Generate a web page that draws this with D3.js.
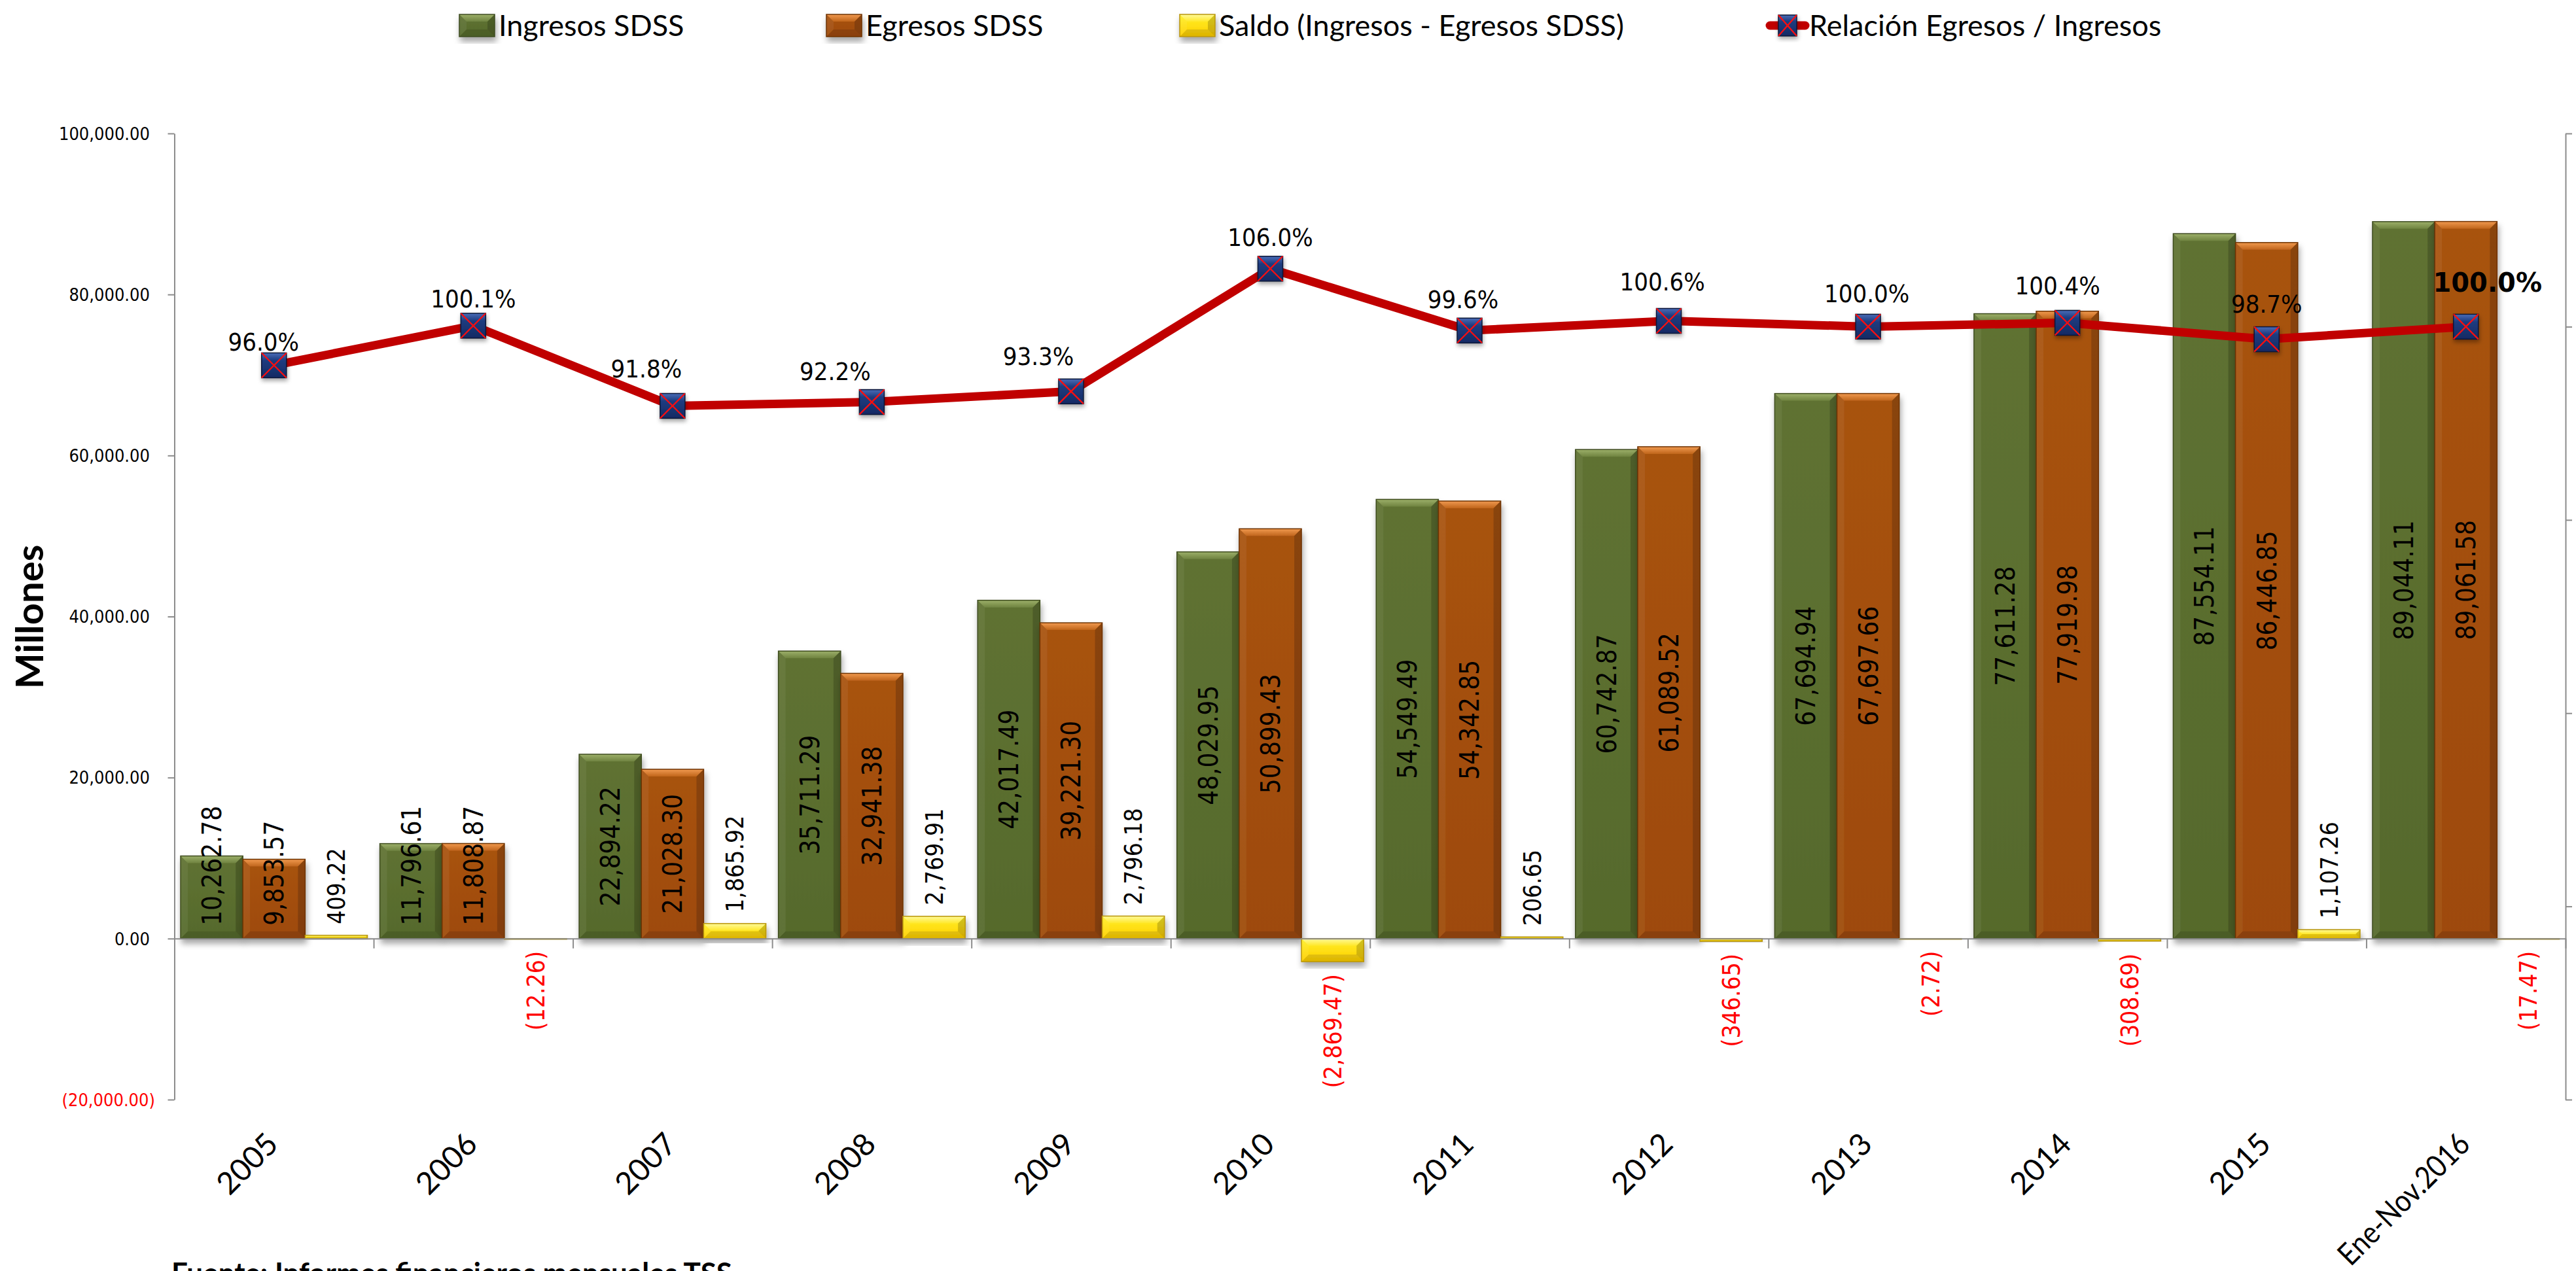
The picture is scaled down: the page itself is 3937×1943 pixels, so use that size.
<!DOCTYPE html>
<html>
<head>
<meta charset="utf-8">
<script src="https://cdn.jsdelivr.net/npm/d3@7"></script>
<style>
html,body{margin:0;padding:0;background:#fff;overflow:hidden}
svg{display:block}
</style>
</head>
<body>
<svg id="chart" width="3937" height="1943"></svg>
<script>
// ---------------- DATA ----------------
const categories = ["2005","2006","2007","2008","2009","2010","2011","2012","2013","2014","2015","Ene-Nov.2016"];
const ingresos = [10262.78,11796.61,22894.22,35711.29,42017.49,48029.95,54549.49,60742.87,67694.94,77611.28,87554.11,89044.11];
const egresos  = [9853.57,11808.87,21028.30,32941.38,39221.30,50899.43,54342.85,61089.52,67697.66,77919.98,86446.85,89061.58];
const saldo    = [409.22,-12.26,1865.92,2769.91,2796.18,-2869.47,206.65,-346.65,-2.72,-308.69,1107.26,-17.47];
const relacion = [0.960,1.001,0.918,0.922,0.933,1.060,0.996,1.006,1.000,1.004,0.987,1.000];
const seriesNames = ["Ingresos SDSS","Egresos SDSS","Saldo (Ingresos - Egresos SDSS)","Relación Egresos / Ingresos"];
const yTicks  = [-20000,0,20000,40000,60000,80000,100000];
const y2Ticks = [0.2,0.4,0.6,0.8,1.0,1.2];
const yTitle = "Millones";
const footer = "Fuente: Informes financieros mensuales TSS";

// ---------------- LAYOUT ----------------
const L = 266.5, R = 3921, T = 204, B = 1681;
const CAL = "Lato, Carlito, Calibri, 'Open Sans', sans-serif";
const VER = "'DejaVu Sans Condensed', 'DejaVu Sans', sans-serif";
// manual nudges of the ratio labels (dx, baseline height above marker)
const pctNudge = [[-16,22],[0,28],[-40,44],[-56,34],[-50,40],[0,35],[-10,34],[-10,47],[-2,37],[-15,43],[0,41],[33,53]];

const svg = d3.select("#chart");
const defs = svg.append("defs");

const palettes = {
  g: {face0:"#5f7232", face1:"#566a2c", edge:"#3e4c1f", top0:"#9db06a", top1:"#6f8340"},
  o: {face0:"#a8530f", face1:"#9e4a0a", edge:"#6e3306", top0:"#f19a4f", top1:"#c0651c"},
  y: {face0:"#fff02a", face1:"#ffcf00", edge:"#b8950a", top0:"#fffa9a", top1:"#ffe82a"}
};
Object.entries(palettes).forEach(([k,p])=>{
  const f = defs.append("linearGradient").attr("id","face_"+k).attr("x1",0).attr("x2",0).attr("y1",0).attr("y2",1);
  f.append("stop").attr("offset","0%").attr("stop-color",p.face0);
  f.append("stop").attr("offset","100%").attr("stop-color",p.face1);
  const t = defs.append("linearGradient").attr("id","top_"+k).attr("x1",0).attr("x2",0).attr("y1",0).attr("y2",1);
  t.append("stop").attr("offset","0%").attr("stop-color",p.top0);
  t.append("stop").attr("offset","100%").attr("stop-color",p.top1);
});
const mk = defs.append("linearGradient").attr("id","mk").attr("x1",0).attr("x2",0).attr("y1",0).attr("y2",1);
mk.append("stop").attr("offset","0%").attr("stop-color","#4a6db8");
mk.append("stop").attr("offset","30%").attr("stop-color","#1f3c80");
mk.append("stop").attr("offset","100%").attr("stop-color","#142a63");
const sh = defs.append("filter").attr("id","sh").attr("x","-30%").attr("y","-30%").attr("width","160%").attr("height","160%");
sh.append("feDropShadow").attr("dx",2).attr("dy",7).attr("stdDeviation",5).attr("flood-color","#000").attr("flood-opacity",0.35);
const sh2 = defs.append("filter").attr("id","sh2").attr("x","-30%").attr("y","-30%").attr("width","160%").attr("height","160%");
sh2.append("feDropShadow").attr("dx",1).attr("dy",4).attr("stdDeviation",3).attr("flood-color","#000").attr("flood-opacity",0.35);

// ---------------- SCALES ----------------
const x0 = d3.scaleBand().domain(categories).range([L,R]).paddingInner(0.0625).paddingOuter(0.03125);
const keys = ["g","o","y"];
const x1 = d3.scaleBand().domain(keys).range([0,x0.bandwidth()]);
const y  = d3.scaleLinear().domain([-20000,100000]).range([B,T]);
const y2 = d3.scaleLinear().domain([0.2,1.2]).range([B,T]);
const xb = d3.scaleLinear().domain([0,categories.length]).range([L,R]);
const cx = c => x0(c) + x0.bandwidth()/2;

function bevelBar(g, x, yy, w, h, k){
  const p = palettes[k];
  const b = Math.min(11, h/2, w/2);
  const grp = g.append("g").attr("filter","url(#sh)");
  grp.append("rect").attr("x",x).attr("y",yy).attr("width",w).attr("height",h)
     .attr("fill","url(#face_"+k+")");
  grp.append("polygon").attr("points",[[x,yy],[x+w,yy],[x+w-b,yy+b],[x+b,yy+b]].join(" "))
     .attr("fill","url(#top_"+k+")");
  grp.append("polygon").attr("points",[[x,yy],[x+b,yy+b],[x+b,yy+h-b],[x,yy+h]].join(" "))
     .attr("fill","#fff").attr("opacity",0.06);
  grp.append("polygon").attr("points",[[x+w,yy],[x+w,yy+h],[x+w-b,yy+h-b],[x+w-b,yy+b]].join(" "))
     .attr("fill","#000").attr("opacity",0.18);
  grp.append("polygon").attr("points",[[x,yy+h],[x+b,yy+h-b],[x+w-b,yy+h-b],[x+w,yy+h]].join(" "))
     .attr("fill","#000").attr("opacity",0.12);
  grp.append("rect").attr("x",x).attr("y",yy).attr("width",w).attr("height",h)
     .attr("fill","none").attr("stroke",p.edge).attr("stroke-width",1.5);
  return grp;
}
function marker(g, x, yy, w, h){
  const m = g.append("g").attr("filter","url(#sh2)").attr("transform",`translate(${x},${yy})`);
  m.append("rect").attr("x",-w/2).attr("y",-h/2).attr("width",w).attr("height",h).attr("fill","url(#mk)")
   .attr("stroke","#0b1838").attr("stroke-width",1.5);
  m.append("line").attr("x1",-w/2).attr("y1",-h/2).attr("x2",w/2).attr("y2",h/2).attr("stroke","#ff1010").attr("stroke-width",2.2);
  m.append("line").attr("x1",w/2).attr("y1",-h/2).attr("x2",-w/2).attr("y2",h/2).attr("stroke","#ff1010").attr("stroke-width",2.2);
}

// ---------------- AXES ----------------
const yAxis = svg.append("g").attr("transform",`translate(${L},0)`)
  .call(d3.axisLeft(y).tickValues(yTicks).tickSize(10).tickSizeOuter(0).tickFormat(()=>""));
const y2Axis = svg.append("g").attr("transform",`translate(${R},0)`)
  .call(d3.axisRight(y2).tickValues(y2Ticks).tickSize(10).tickSizeOuter(0).tickFormat(()=>""));
[yAxis,y2Axis].forEach(a=>{a.selectAll("path,line").attr("stroke","#8c8c8c").attr("stroke-width",2);});

const fmt = d3.format(",.2f");
const fmtNeg = v => v < 0 ? "(" + fmt(-v) + ")" : fmt(v);
svg.append("g").selectAll("text").data(yTicks).join("text")
  .attr("x", d => d < 0 ? 237 : 229).attr("y", d => y(d)).attr("dy","0.36em")
  .attr("text-anchor","end").attr("font-family",VER).attr("font-size",27)
  .attr("fill", d => d < 0 ? "#ff0000" : "#000").text(fmtNeg);

// ---------------- BARS ----------------
const barsG = svg.append("g");
const series = {g: ingresos, o: egresos, y: saldo};
categories.forEach((c,i)=>{
  keys.forEach(k=>{
    const v = series[k][i];
    const yt = y(Math.max(0,v)), yb = y(Math.min(0,v));
    bevelBar(barsG, x0(c)+x1(k), yt, x1.bandwidth(), Math.max(1, yb-yt), k);
  });
});

// x axis (at zero)
const xAxis = svg.append("g").attr("transform",`translate(0,${y(0)})`)
  .call(d3.axisBottom(xb).tickValues(d3.range(0,categories.length+1)).tickSize(15).tickSizeOuter(0).tickFormat(()=>""));
xAxis.selectAll("path,line").attr("stroke","#8c8c8c").attr("stroke-width",2);

// ---------------- BAR LABELS ----------------
const labG = svg.append("g");
const base = y(0);
categories.forEach((c,i)=>{
  keys.forEach(k=>{
    const v = series[k][i];
    const bx = x0(c)+x1(k)+x1.bandwidth()/2;
    const yt = y(Math.max(0,v)), yb = y(Math.min(0,v));
    const t = labG.append("text").attr("font-family",VER).attr("font-size", k==="y" ? 37 : 40)
      .attr("fill", v < 0 ? "#ff0000" : "#000").attr("dy","0.36em").text(fmtNeg(v));
    const len = t.node().getComputedTextLength();
    let anchorY, anchor;
    if (k === "y") {
      if (v >= 0) { anchorY = yt - 17; anchor = "start"; }
      else { anchorY = yb + 19; anchor = "end"; }
    } else {
      const mid = (yt+yb)/2;
      anchorY = Math.min(mid + len/2, base - 20); anchor = "start";
    }
    t.attr("text-anchor",anchor).attr("transform",`translate(${bx},${anchorY}) rotate(-90)`);
  });
});

// ---------------- LINE ----------------
const line = d3.line().x((d,i)=>cx(categories[i])).y(d=>y2(d));
svg.append("path").datum(relacion).attr("d",line).attr("fill","none")
  .attr("stroke","#c00000").attr("stroke-width",13).attr("stroke-linejoin","round");
const mG = svg.append("g");
relacion.forEach((v,i)=> marker(mG, cx(categories[i]), y2(v), 38, 38));
const pfmt = d3.format(".1%");
relacion.forEach((v,i)=>{
  const last = i === relacion.length-1;
  svg.append("text").attr("x", cx(categories[i]) + pctNudge[i][0]).attr("y", y2(v) - pctNudge[i][1])
    .attr("text-anchor","middle")
    .attr("font-family", last ? "'DejaVu Sans', sans-serif" : VER)
    .attr("font-weight", last ? "bold" : "normal")
    .attr("font-size", last ? 40 : 38).attr("fill","#000").text(pfmt(v));
});

// ---------------- CATEGORY LABELS ----------------
const catLab = svg.append("g").selectAll("text").data(categories).join("text")
  .attr("transform", d => `translate(${cx(d)+9},1752) rotate(-45)`)
  .attr("text-anchor","end").attr("font-family",CAL).attr("font-size",47).attr("fill","#000").text(d=>d);
catLab.each(function(){
  const l = this.getComputedTextLength();
  if (l > 262) d3.select(this).attr("textLength",262).attr("lengthAdjust","spacingAndGlyphs");
});

// y title
svg.append("text").attr("transform","translate(66,943) rotate(-90)").attr("text-anchor","middle")
  .attr("font-family",CAL).attr("font-weight","bold").attr("font-size",58).attr("fill","#000").text(yTitle);

// footer (cut by the bottom edge, as in the source image)
svg.append("text").attr("x",262).attr("y",1962).attr("font-family",CAL).attr("font-weight","bold")
  .attr("font-size",44).attr("fill","#000").text(footer);

// ---------------- LEGEND ----------------
const lg = svg.append("g");
const legY = 39;
const legX = [702, 1263, 1803, 2699];
["g","o","y"].forEach((k,i)=>{
  bevelBar(lg, legX[i], legY-17, 54, 34, k);
  lg.append("text").attr("x",legX[i]+60).attr("y",legY).attr("dy","0.35em")
    .attr("font-family",CAL).attr("font-size",45).attr("fill","#000").text(seriesNames[i]);
});
lg.append("line").attr("x1",legX[3]+6).attr("x2",legX[3]+60).attr("y1",legY).attr("y2",legY)
  .attr("stroke","#c00000").attr("stroke-width",13).attr("stroke-linecap","round");
marker(lg, legX[3]+33, legY, 28, 32);
lg.append("text").attr("x",legX[3]+66).attr("y",legY).attr("dy","0.35em")
  .attr("font-family",CAL).attr("font-size",45).attr("fill","#000").text(seriesNames[3]);
</script>
</body>
</html>
